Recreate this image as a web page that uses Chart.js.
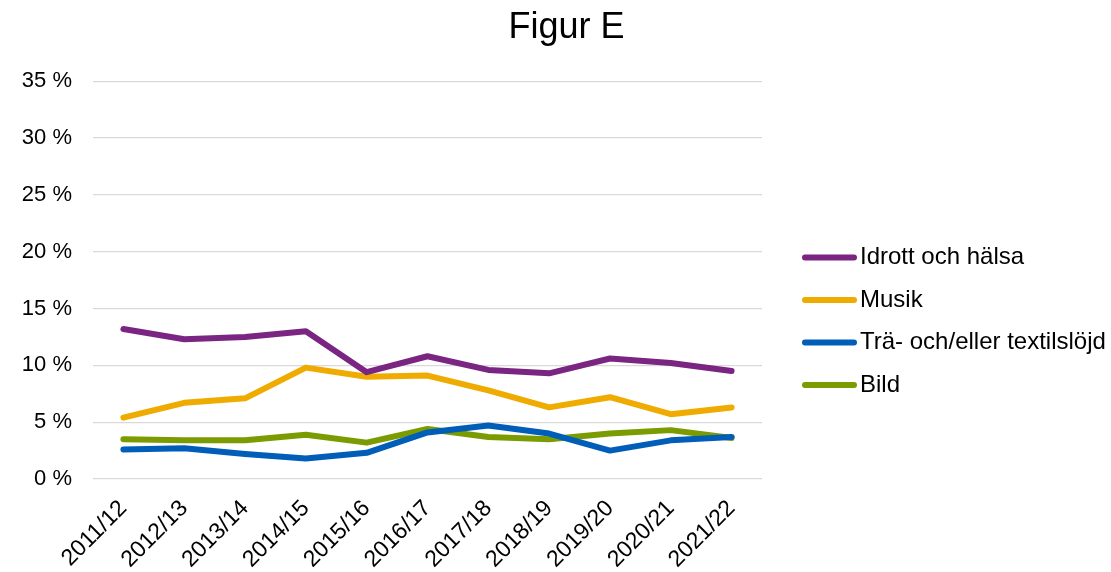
<!DOCTYPE html>
<html lang="sv">
<head>
<meta charset="utf-8">
<title>Figur E</title>
<script src="https://cdn.jsdelivr.net/npm/chart.js@4/dist/chart.umd.min.js"></script>
<style>
  html, body { margin: 0; padding: 0; background: #fff; }
  #wrap { width: 1111px; height: 572px; }
</style>
</head>
<body>
<div id="wrap"><canvas id="figurE"></canvas></div>
<script>
// Data
const years = ['2011/12', '2012/13', '2013/14', '2014/15', '2015/16', '2016/17',
  '2017/18', '2018/19', '2019/20', '2020/21', '2021/22'];
const idrott = [13.2, 12.3, 12.5, 13.0, 9.4, 10.8, 9.6, 9.3, 10.6, 10.2, 9.5];
const musik = [5.4, 6.7, 7.1, 9.8, 9.0, 9.1, 7.8, 6.3, 7.2, 5.7, 6.3];
const slojd = [2.6, 2.7, 2.2, 1.8, 2.3, 4.1, 4.7, 4.0, 2.5, 3.4, 3.7];
const bild = [3.5, 3.4, 3.4, 3.9, 3.2, 4.4, 3.7, 3.5, 4.0, 4.3, 3.6];
const seriesNames = ['Idrott och hälsa', 'Musik', 'Trä- och/eller textilslöjd', 'Bild'];
const yTicks = [0, 5, 10, 15, 20, 25, 30, 35];

const colors = ['#7a2582', '#efab00', '#005eb8', '#7b9c00'];
const fontFamily = '"Liberation Sans", Arial, sans-serif';

// Legend layout (right hand side, outside the plot)
const legendBox = {
  lineStart: 805,
  lineEnd: 854,
  textX: 860,
  firstRow: 257.5,
  rowStep: 42.5,
  fontSize: 24
};

function makeDataset(label, data, color) {
  return {
    label: label,
    data: data,
    borderColor: color,
    backgroundColor: color,
    borderWidth: 6,
    borderCapStyle: 'round',
    borderJoinStyle: 'round',
    pointRadius: 0,
    pointHoverRadius: 0,
    tension: 0,
    fill: false
  };
}

// Draws the legend as line samples + labels; the built-in legend
// can't get wide enough for the long label at this size.
const sideLegend = {
  id: 'sideLegend',
  afterDraw(chart) {
    const c = chart.ctx;
    c.save();
    c.font = legendBox.fontSize + 'px ' + fontFamily;
    c.textBaseline = 'middle';
    c.textAlign = 'left';
    chart.data.datasets.forEach((ds, i) => {
      const y = legendBox.firstRow + i * legendBox.rowStep;
      c.beginPath();
      c.strokeStyle = ds.borderColor;
      c.lineWidth = ds.borderWidth;
      c.lineCap = 'round';
      c.moveTo(legendBox.lineStart, y);
      c.lineTo(legendBox.lineEnd, y);
      c.stroke();
      c.fillStyle = '#000';
      c.fillText(ds.label, legendBox.textX, y);
    });
    c.restore();
  }
};

const ctx = document.getElementById('figurE').getContext('2d');
new Chart(ctx, {
  type: 'line',
  data: {
    labels: years,
    datasets: [
      makeDataset(seriesNames[0], idrott, colors[0]),
      makeDataset(seriesNames[1], musik, colors[1]),
      makeDataset(seriesNames[2], slojd, colors[2]),
      makeDataset(seriesNames[3], bild, colors[3])
    ]
  },
  plugins: [sideLegend],
  options: {
    responsive: true,
    maintainAspectRatio: false,
    animation: false,
    layout: {
      padding: { left: 22, right: 0, top: 0, bottom: 0 }
    },
    plugins: {
      title: {
        display: true,
        text: 'Figur E',
        color: '#000',
        font: { family: fontFamily, size: 36, weight: 'normal' },
        padding: { top: 6, bottom: 32 }
      },
      legend: { display: false },
      tooltip: { enabled: false }
    },
    scales: {
      x: {
        offset: true,
        grid: { display: false, drawTicks: false },
        border: { display: false },
        afterFit: (axis) => { axis.height = 93; },
        ticks: {
          color: '#000',
          font: { family: fontFamily, size: 23 },
          minRotation: 45,
          maxRotation: 45,
          padding: 16,
          autoSkip: false
        }
      },
      y: {
        min: yTicks[0],
        max: yTicks[yTicks.length - 1],
        grid: { color: '#d9d9d9', lineWidth: 1.3, drawTicks: false },
        border: { display: false },
        afterBuildTicks: (axis) => {
          axis.ticks = yTicks.map(v => ({ value: v }));
        },
        afterFit: (axis) => { axis.width = 71; },
        ticks: {
          color: '#000',
          font: { family: fontFamily, size: 22 },
          padding: 21,
          callback: (value) => value + ' %'
        }
      },
      // empty right-hand axis, only reserves room for the legend
      legendSpace: {
        type: 'linear',
        position: 'right',
        grid: { display: false, drawTicks: false },
        border: { display: false },
        ticks: { display: false },
        afterFit: (axis) => { axis.width = 349; }
      }
    }
  }
});
</script>
</body>
</html>
